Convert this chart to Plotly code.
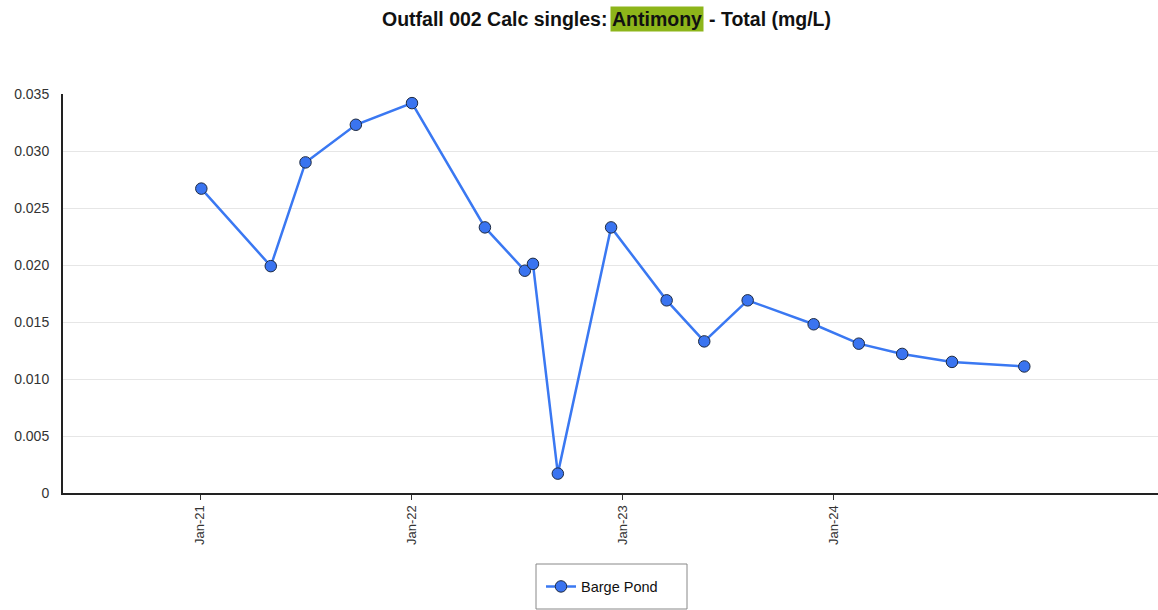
import pandas as pd
import plotly.graph_objects as go

# Sample dates and antimony results (mg/L) for Barge Pond
sample_dates = [
    "2021-01-03", "2021-05-03", "2021-07-02", "2021-09-27", "2022-01-02",
    "2022-05-08", "2022-07-16", "2022-07-30", "2022-09-11", "2022-12-12",
    "2023-03-18", "2023-05-22", "2023-08-05", "2023-11-27", "2024-02-13",
    "2024-04-28", "2024-07-23", "2024-11-25",
]
antimony_mg_l = [
    0.0267, 0.0199, 0.0290, 0.0323, 0.0342,
    0.0233, 0.0195, 0.0201, 0.0017, 0.0233,
    0.0169, 0.0133, 0.0169, 0.0148, 0.0131,
    0.0122, 0.0115, 0.0111,
]
series_name = "Barge Pond"

y_tick_vals = [0, 0.005, 0.010, 0.015, 0.020, 0.025, 0.030, 0.035]
y_tick_text = ["0", "0.005", "0.010", "0.015", "0.020", "0.025", "0.030", "0.035"]
x_tick_vals = ["2021-01-01", "2022-01-01", "2023-01-01", "2024-01-01"]
x_tick_text = ["Jan-21", "Jan-22", "Jan-23", "Jan-24"]

title_before = "Outfall 002 Calc singles:"
title_highlight = "Antimony"
title_after = "- Total (mg/L)"

FONT = "Liberation Sans, Arial, sans-serif"

# plot area geometry in pixels (used to place title pieces / legend frame)
W, H = 1158, 610
ML, MR, MT, MB = 63, 0, 94, 117
PW = W - ML - MR
PH = H - MT - MB


def px_x(px):
    return (px - ML) / PW


def px_y(py):
    return (H - MB - py) / PH


fig = go.Figure()
fig.add_trace(go.Scatter(
    x=pd.to_datetime(sample_dates),
    y=antimony_mg_l,
    mode="lines+markers",
    name=series_name,
    line=dict(color="#3a78f2", width=2.5),
    marker=dict(size=11.5, color="#3a74f0", line=dict(color="#1e2a40", width=1)),
))

# Title in three pieces so the analyte name can carry a highlight
title_font = dict(family=FONT, size=19.5, color="#111111")
title_y = px_y(18.5)
fig.add_annotation(
    text=f"<b>{title_highlight}</b>", xref="paper", yref="paper",
    x=px_x(657), y=title_y, xanchor="center", yanchor="middle",
    showarrow=False, font=title_font, bgcolor="#8db51a", borderpad=1,
)
fig.add_annotation(
    text=f"<b>{title_before}</b>", xref="paper", yref="paper",
    x=px_x(608), y=title_y, xanchor="right", yanchor="middle",
    showarrow=False, font=title_font, borderpad=0,
)
fig.add_annotation(
    text=f"<b>{title_after}</b>", xref="paper", yref="paper",
    x=px_x(708), y=title_y, xanchor="left", yanchor="middle",
    showarrow=False, font=title_font, borderpad=0,
)

# Legend frame
fig.add_shape(
    type="rect", xref="paper", yref="paper",
    x0=px_x(536), x1=px_x(687), y0=px_y(609), y1=px_y(564),
    line=dict(color="#888888", width=1), fillcolor="rgba(0,0,0,0)",
)

fig.update_layout(
    width=W, height=H,
    margin=dict(l=ML, r=MR, t=MT, b=MB),
    paper_bgcolor="white", plot_bgcolor="white",
    font=dict(family=FONT, size=12, color="#333333"),
    showlegend=True,
    legend=dict(
        x=px_x(541), y=px_y(586.5), xanchor="left", yanchor="middle",
        borderwidth=0, bgcolor="rgba(0,0,0,0)",
        font=dict(family=FONT, size=14.5, color="#111111"),
        itemwidth=30,
    ),
    xaxis=dict(
        range=["2020-05-09", "2025-07-14"],
        tickvals=pd.to_datetime(x_tick_vals), ticktext=x_tick_text,
        tickangle=-90, ticks="outside", ticklen=5, tickcolor="#333333",
        showline=True, linecolor="#222222", linewidth=2,
        showgrid=False, zeroline=False,
        tickfont=dict(family=FONT, size=13, color="#333333"),
    ),
    yaxis=dict(
        range=[0, 0.035],
        tickvals=y_tick_vals, ticktext=y_tick_text,
        showline=True, linecolor="#222222", linewidth=2,
        showgrid=True, gridcolor="#e6e6e6", gridwidth=1,
        zeroline=False, ticks="", ticklabelstandoff=9,
        tickfont=dict(family=FONT, size=14, color="#333333"),
    ),
)

fig.write_html("out.html")
